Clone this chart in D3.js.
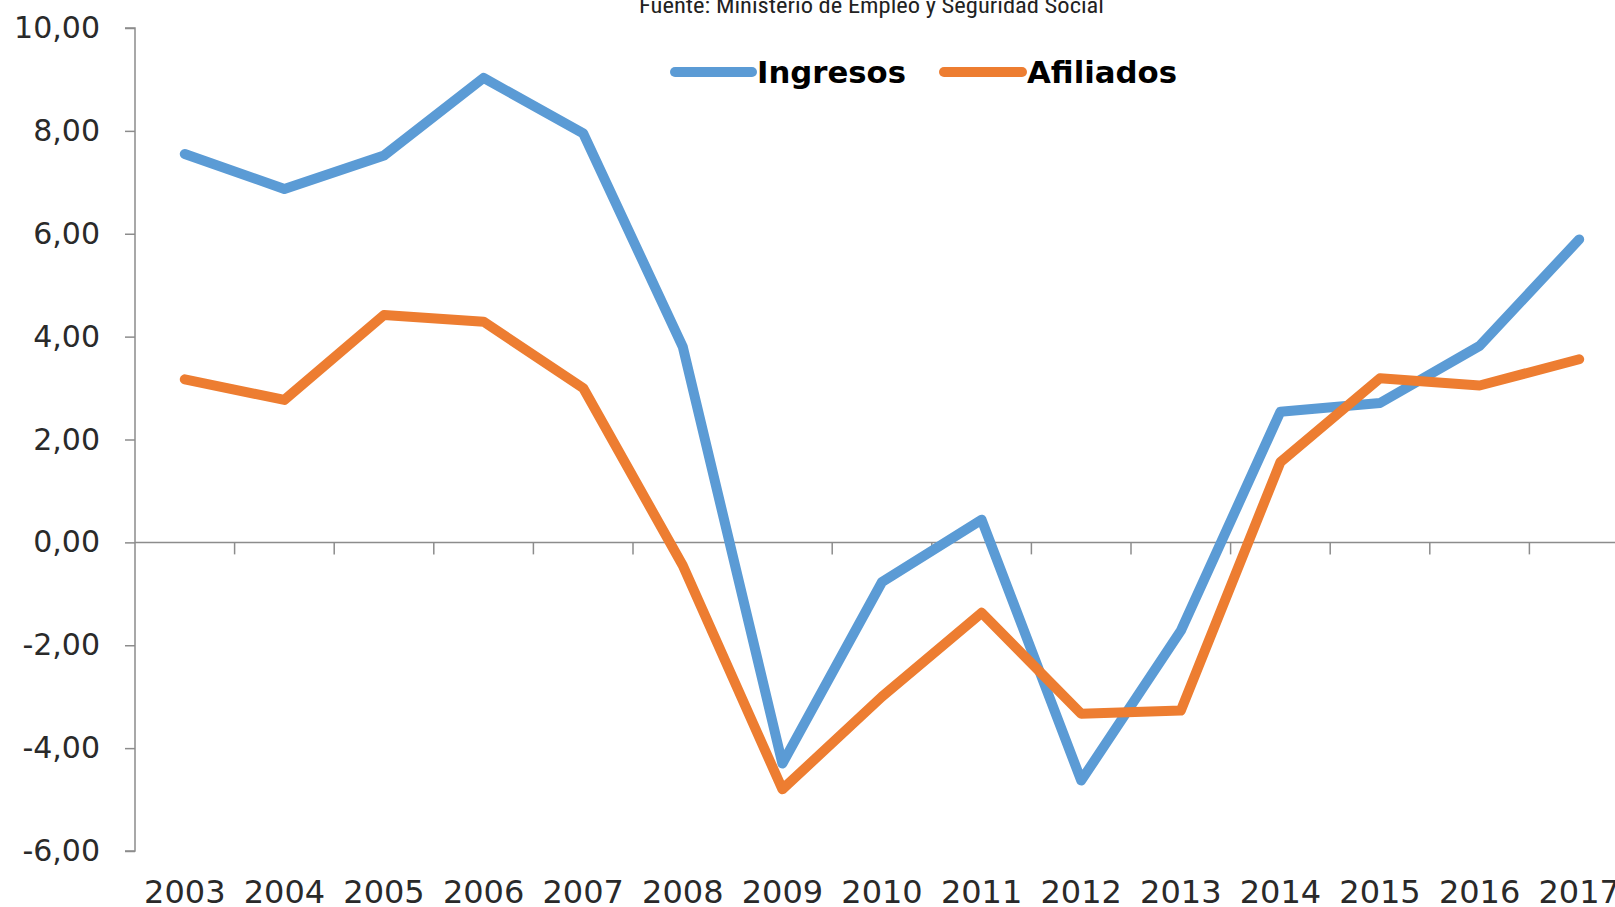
<!DOCTYPE html>
<html>
<head>
<meta charset="utf-8">
<script src="https://cdn.jsdelivr.net/npm/d3@7"></script>
<style>
  html, body { margin: 0; padding: 0; background: #fff; overflow: hidden; }
  svg { display: block; }
</style>
</head>
<body>
<svg id="chart" width="1615" height="907"></svg>
<script>
const years = ["2003","2004","2005","2006","2007","2008","2009","2010","2011","2012","2013","2014","2015","2016","2017"];
const ingresos = [7.55, 6.87, 7.52, 9.03, 7.95, 3.8, -4.3, -0.77, 0.44, -4.63, -1.72, 2.54, 2.71, 3.82, 5.89];
const afiliados = [3.17, 2.77, 4.42, 4.29, 3.0, -0.45, -4.8, -3.0, -1.37, -3.33, -3.27, 1.56, 3.19, 3.05, 3.56];
const yTicks = [-6, -4, -2, 0, 2, 4, 6, 8, 10];
const seriesNames = ["Ingresos", "Afiliados"];
const seriesColors = ["#5B9BD5", "#ED7D31"];
const sourceText = "Fuente: Ministerio de Empleo y Seguridad Social";

(function () {
const svg = d3.select("#chart");
const pLeft = 135, pRight = 1629, pTop = 28, pBottom = 851;

const x = d3.scaleBand().domain(years).range([pLeft, pRight]).padding(0);
const y = d3.scaleLinear().domain([-6, 10]).range([pBottom, pTop]);
const fmt = v => (v < 0 ? "-" : "") + d3.format(".2f")(Math.abs(v)).replace(".", ",");
const axisColor = "#8c8c8c";

// Source text (cropped at top)
svg.append("text")
  .attr("x", 639).attr("y", 13)
  .attr("textLength", 465).attr("lengthAdjust", "spacingAndGlyphs")
  .style("font-family", "'Liberation Sans Narrow', 'Roboto Condensed', 'Liberation Sans', sans-serif")
  .style("font-size", "22px").style("fill", "#222")
  .text(sourceText);

// Y axis
const yAxis = d3.axisLeft(y).tickValues(yTicks).tickSize(10).tickPadding(25).tickFormat(fmt);
const gy = svg.append("g").attr("transform", `translate(${pLeft},0)`).call(yAxis);
gy.select(".domain").attr("stroke", axisColor).attr("stroke-width", 1.5).attr("d", `M-10,${pTop}H0V${pBottom}H-10`);
gy.selectAll(".tick line").attr("stroke", axisColor).attr("stroke-width", 1.5);
gy.selectAll(".tick text")
  .style("font-family", "'DejaVu Sans', sans-serif")
  .style("font-size", "30px").style("fill", "#2a2a2a");

// X axis line at zero with boundary ticks
const boundaries = years.slice(1).map(d => x(d)).concat([pRight]);
const gx = svg.append("g");
gx.append("line").attr("x1", pLeft).attr("x2", pRight).attr("y1", y(0)).attr("y2", y(0))
  .attr("stroke", axisColor).attr("stroke-width", 1.5);
gx.selectAll("line.tk").data(boundaries).enter().append("line").attr("class", "tk")
  .attr("x1", d => d).attr("x2", d => d).attr("y1", y(0)).attr("y2", y(0) + 12)
  .attr("stroke", axisColor).attr("stroke-width", 1.5);

// X labels at bottom
svg.append("g").selectAll("text").data(years).enter().append("text")
  .attr("x", d => x(d) + x.bandwidth() / 2).attr("y", 903)
  .attr("text-anchor", "middle")
  .style("font-family", "'DejaVu Sans', sans-serif")
  .style("font-size", "32px").style("fill", "#2a2a2a")
  .text(d => d);

// Lines
const line = d3.line().x((d, i) => x(years[i]) + x.bandwidth() / 2).y(d => y(d));
[ingresos, afiliados].forEach((data, k) => {
  svg.append("path").datum(data)
    .attr("d", line).attr("fill", "none")
    .attr("stroke", seriesColors[k]).attr("stroke-width", 10)
    .attr("stroke-linejoin", "round").attr("stroke-linecap", "round");
});

// Legend
const legendItems = [
  {x1: 675, x2: 752, tx: 757, tw: 149},
  {x1: 944, x2: 1022, tx: 1027, tw: 150}
];
legendItems.forEach((it, k) => {
  svg.append("line").attr("x1", it.x1).attr("x2", it.x2).attr("y1", 72).attr("y2", 72)
    .attr("stroke", seriesColors[k]).attr("stroke-width", 10).attr("stroke-linecap", "round");
  svg.append("text").attr("x", it.tx).attr("y", 83)
    .attr("textLength", it.tw).attr("lengthAdjust", "spacingAndGlyphs")
    .style("font-family", "'DejaVu Sans', sans-serif").style("font-weight", "bold")
    .style("font-size", "31px").style("fill", "#000")
    .text(seriesNames[k]);
});
})();
</script>
</body>
</html>
